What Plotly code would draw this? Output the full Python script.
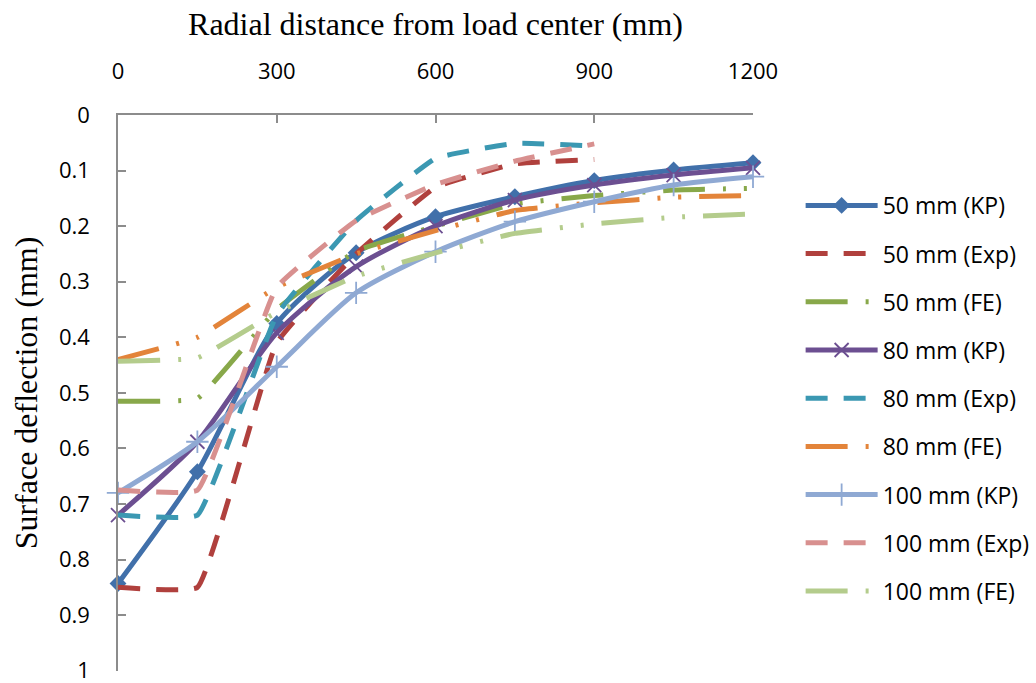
import plotly.graph_objects as go

# Radial distance (mm) at which each series was evaluated / measured
x_kp = [0, 150, 300, 450, 600, 750, 900, 1050, 1200]
x_exp = [0, 150, 300, 450, 600, 750, 900]
x_fe = [0, 150, 300, 450, 600, 750, 900, 1050, 1200]

# Surface deflection (mm)
kp_50 = [0.843, 0.642, 0.375, 0.248, 0.183, 0.147, 0.118, 0.099, 0.086]
exp_50 = [0.85, 0.85, 0.41, 0.25, 0.13, 0.088, 0.08]
fe_50 = [0.515, 0.51, 0.35, 0.245, 0.2, 0.16, 0.145, 0.135, 0.132]

kp_80 = [0.72, 0.588, 0.392, 0.273, 0.2, 0.153, 0.126, 0.108, 0.095]
exp_80 = [0.72, 0.72, 0.36, 0.19, 0.078, 0.051, 0.056]
fe_80 = [0.44, 0.40, 0.31, 0.25, 0.208, 0.172, 0.158, 0.148, 0.145]

kp_100 = [0.68, 0.588, 0.453, 0.32, 0.246, 0.192, 0.156, 0.126, 0.111]
exp_100 = [0.675, 0.675, 0.31, 0.19, 0.125, 0.083, 0.052]
fe_100 = [0.443, 0.437, 0.355, 0.29, 0.248, 0.213, 0.196, 0.184, 0.178]

x_ticks = [0, 300, 600, 900, 1200]
y_ticks = [0, 0.1, 0.2, 0.3, 0.4, 0.5, 0.6, 0.7, 0.8, 0.9, 1]

EXP_DASH = "22px,16px"
FE_DASH = "42px,18px,3px,18px,3px,18px"

series = [
    ("50 mm (KP)", x_kp, kp_50, "#4170AA", "solid", dict(symbol="diamond", size=13)),
    ("50 mm (Exp)", x_exp, exp_50, "#B0403D", EXP_DASH, None),
    ("50 mm (FE)", x_fe, fe_50, "#88A84A", FE_DASH, None),
    ("80 mm (KP)", x_kp, kp_80, "#6C4F91", "solid",
     dict(symbol="x-thin-open", size=14, line=dict(width=1.8))),
    ("80 mm (Exp)", x_exp, exp_80, "#3B98B2", EXP_DASH, None),
    ("80 mm (FE)", x_fe, fe_80, "#E3843A", FE_DASH, None),
    ("100 mm (KP)", x_kp, kp_100, "#8FA9D3", "solid",
     dict(symbol="cross-thin-open", size=16, line=dict(width=1.8))),
    ("100 mm (Exp)", x_exp, exp_100, "#D8908F", EXP_DASH, None),
    ("100 mm (FE)", x_fe, fe_100, "#B4CC8C", FE_DASH, None),
]

fig = go.Figure()
for i, (name, xs, ys, color, dash, marker) in enumerate(series):
    kw = {}
    if marker is not None:
        m = dict(marker)
        m["color"] = color
        if "line" in m:
            m["line"] = dict(m["line"], color=color)
        kw["marker"] = m
        mode = "lines+markers"
        smooth = 0.7
    else:
        mode = "lines"
        smooth = 0.3
    fig.add_trace(go.Scatter(
        x=xs, y=ys, name=name, mode=mode,
        line=dict(color=color, width=5, dash=dash, shape="spline", smoothing=smooth),
        legendgroup=f"g{i}", cliponaxis=False, **kw))

fig.update_layout(
    width=1036, height=683,
    margin=dict(l=118, r=283, t=115, b=12, autoexpand=False),
    paper_bgcolor="white", plot_bgcolor="white",
    showlegend=True,
    legend=dict(
        x=1.075, xanchor="left", xref="paper", y=0.876, yanchor="top",
        font=dict(family="Open Sans", size=23, color="black"),
        itemwidth=72, tracegroupgap=15.3, bgcolor="rgba(0,0,0,0)",
    ),
    xaxis=dict(
        side="top", range=[0, 1200], tickvals=x_ticks, automargin=False,
        showgrid=False, zeroline=False, showline=True,
        linecolor="#8c8c8c", linewidth=1.5,
        ticks="inside", ticklen=8, tickcolor="#8c8c8c", tickwidth=1.5,
        tickfont=dict(family="Open Sans", size=22, color="black"),
        ticklabelstandoff=25, ticklabeloverflow="allow",
        title=dict(text="Radial distance from load center (mm)",
                   font=dict(family="Liberation Serif", size=32, color="black"),
                   standoff=10),
    ),
    yaxis=dict(
        range=[1.0005, 0], tickvals=y_ticks, automargin=False,
        ticktext=[f"{v:g}" for v in y_ticks],
        showgrid=False, zeroline=False, showline=True,
        linecolor="#8c8c8c", linewidth=1.5,
        ticks="inside", ticklen=8, tickcolor="#8c8c8c", tickwidth=1.5,
        tickfont=dict(family="Open Sans", size=22, color="black"),
        ticklabelstandoff=22, ticklabeloverflow="allow",
        title=dict(text="Surface deflection (mm)",
                   font=dict(family="Liberation Serif", size=32, color="black"),
                   standoff=12),
    ),
)

fig.write_html("out.html")
